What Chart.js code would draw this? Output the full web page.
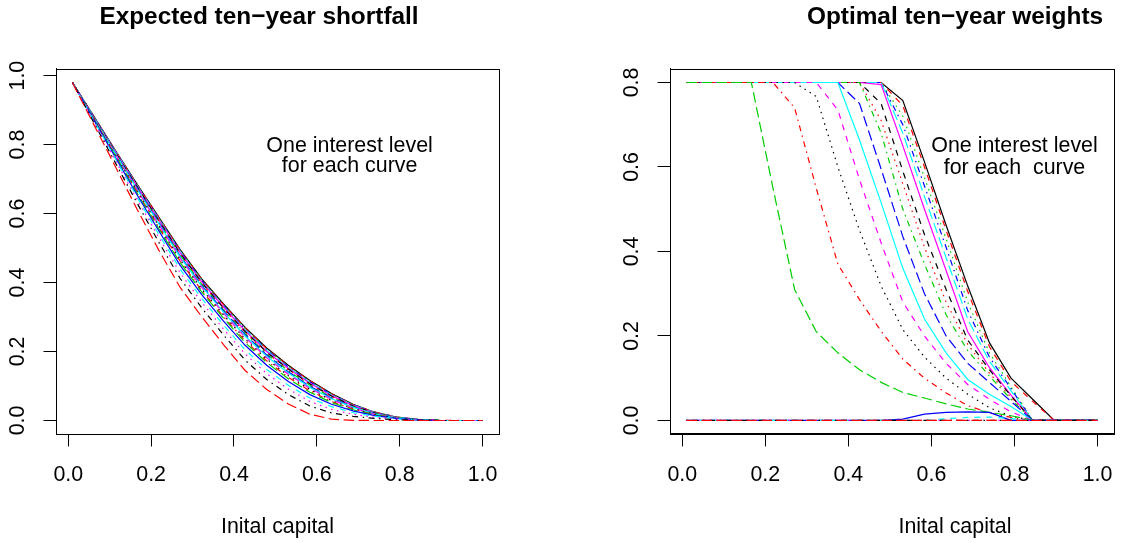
<!DOCTYPE html>
<html><head><meta charset="utf-8">
<script src="https://cdn.jsdelivr.net/npm/chart.js@4.4.1/dist/chart.umd.min.js"></script>
<style>
html,body{margin:0;padding:0;background:#fff;overflow:hidden;width:1123px;height:543px;}
#wl{position:absolute;left:0;top:0;width:518px;height:543px;}
#wr{position:absolute;left:561px;top:0;width:788px;height:543px;}
</style></head><body>
<div id="wl"><canvas id="cl" width="518" height="543"></canvas></div>
<div id="wr"><canvas id="cr" width="788" height="543"></canvas></div>
<script>
// ---- data ----
const xGrid = [0.01, 0.0621, 0.1142, 0.1663, 0.2184, 0.2705, 0.3226, 0.3747, 0.4268, 0.4789, 0.5311, 0.5832, 0.6353, 0.6874, 0.7395, 0.7916, 0.8437, 0.8958, 0.9479, 1.0];
const xTicks = [0, 0.2, 0.4, 0.6, 0.8, 1.0];
const yTicksLeft = [0, 0.2, 0.4, 0.6, 0.8, 1.0];
const yTicksRight = [0, 0.2, 0.4, 0.6, 0.8];

// Expected ten-year shortfall, one curve per interest level
const s1  = [0.98, 0.881, 0.782, 0.685, 0.590, 0.495, 0.410, 0.338, 0.270, 0.210, 0.160, 0.116, 0.078, 0.047, 0.024, 0.010, 0.003, 0.0005, 0, 0];
const s2  = [0.98, 0.881, 0.781, 0.684, 0.589, 0.493, 0.408, 0.336, 0.268, 0.208, 0.158, 0.115, 0.077, 0.046, 0.024, 0.010, 0.003, 0.0005, 0, 0];
const s3  = [0.98, 0.880, 0.781, 0.683, 0.587, 0.492, 0.407, 0.334, 0.266, 0.206, 0.157, 0.113, 0.076, 0.046, 0.023, 0.010, 0.003, 0, 0, 0];
const s4  = [0.98, 0.880, 0.780, 0.682, 0.586, 0.490, 0.405, 0.333, 0.264, 0.205, 0.155, 0.112, 0.075, 0.045, 0.023, 0.010, 0.003, 0, 0, 0];
const s5  = [0.98, 0.880, 0.779, 0.681, 0.584, 0.488, 0.403, 0.331, 0.263, 0.203, 0.153, 0.110, 0.074, 0.044, 0.023, 0.009, 0.003, 0, 0, 0];
const s6  = [0.98, 0.879, 0.778, 0.679, 0.582, 0.486, 0.401, 0.329, 0.260, 0.200, 0.151, 0.108, 0.072, 0.043, 0.022, 0.009, 0.003, 0, 0, 0];
const s7  = [0.98, 0.879, 0.777, 0.678, 0.580, 0.484, 0.399, 0.326, 0.258, 0.198, 0.149, 0.106, 0.071, 0.042, 0.022, 0.009, 0.003, 0, 0, 0];
const s8  = [0.98, 0.878, 0.776, 0.676, 0.579, 0.482, 0.397, 0.324, 0.255, 0.196, 0.147, 0.104, 0.069, 0.041, 0.021, 0.009, 0.003, 0, 0, 0];
const s9  = [0.98, 0.878, 0.775, 0.674, 0.576, 0.479, 0.394, 0.321, 0.252, 0.193, 0.144, 0.102, 0.067, 0.040, 0.021, 0.009, 0.003, 0, 0, 0];
const s10 = [0.98, 0.877, 0.774, 0.673, 0.574, 0.476, 0.391, 0.318, 0.249, 0.190, 0.141, 0.099, 0.065, 0.039, 0.020, 0.008, 0.002, 0, 0, 0];
const s11 = [0.98, 0.876, 0.773, 0.670, 0.571, 0.473, 0.388, 0.314, 0.245, 0.186, 0.138, 0.096, 0.063, 0.038, 0.019, 0.008, 0.002, 0, 0, 0];
const s12 = [0.98, 0.876, 0.771, 0.668, 0.568, 0.470, 0.385, 0.311, 0.241, 0.182, 0.134, 0.093, 0.061, 0.036, 0.018, 0.008, 0.002, 0, 0, 0];
const s13 = [0.98, 0.875, 0.769, 0.665, 0.564, 0.465, 0.380, 0.306, 0.236, 0.178, 0.130, 0.090, 0.058, 0.034, 0.018, 0.007, 0.002, 0, 0, 0];
const s14 = [0.98, 0.874, 0.767, 0.662, 0.560, 0.461, 0.376, 0.301, 0.231, 0.173, 0.125, 0.086, 0.055, 0.033, 0.017, 0.007, 0.002, 0, 0, 0];
const s15 = [0.98, 0.873, 0.766, 0.659, 0.556, 0.457, 0.372, 0.297, 0.226, 0.168, 0.121, 0.082, 0.052, 0.031, 0.016, 0.007, 0.002, 0, 0, 0];
const s16 = [0.98, 0.871, 0.762, 0.654, 0.550, 0.449, 0.364, 0.288, 0.218, 0.160, 0.113, 0.075, 0.047, 0.028, 0.014, 0.006, 0.002, 0, 0, 0];
const s17 = [0.98, 0.869, 0.758, 0.647, 0.540, 0.438, 0.353, 0.277, 0.205, 0.148, 0.102, 0.065, 0.040, 0.023, 0.012, 0.005, 0.001, 0, 0, 0];
const s18 = [0.98, 0.866, 0.753, 0.640, 0.531, 0.427, 0.342, 0.265, 0.193, 0.136, 0.091, 0.055, 0.032, 0.018, 0.009, 0.004, 0.001, 0, 0, 0];
const s19 = [0.98, 0.863, 0.746, 0.630, 0.517, 0.411, 0.326, 0.248, 0.175, 0.119, 0.075, 0.042, 0.022, 0.012, 0.006, 0.002, 0.001, 0, 0, 0];
const s20 = [0.98, 0.857, 0.735, 0.612, 0.494, 0.385, 0.300, 0.220, 0.145, 0.090, 0.048, 0.018, 0.004, 0.0005, 0, 0, 0, 0, 0, 0];

// Optimal ten-year weights, one curve per interest level
const w1  = [0.8, 0.8, 0.8, 0.8, 0.8, 0.8, 0.8, 0.8, 0.8, 0.8, 0.757, 0.612, 0.462, 0.318, 0.184, 0.100, 0.050, 0, 0, 0];
const w2  = [0.8, 0.8, 0.8, 0.8, 0.8, 0.8, 0.8, 0.8, 0.8, 0.8, 0.745, 0.600, 0.450, 0.305, 0.175, 0.092, 0.045, 0, 0, 0];
const w3  = [0.8, 0.8, 0.8, 0.8, 0.8, 0.8, 0.8, 0.8, 0.8, 0.8, 0.720, 0.575, 0.430, 0.280, 0.160, 0.080, 0, 0, 0, 0];
const w4  = [0.8, 0.8, 0.8, 0.8, 0.8, 0.8, 0.8, 0.8, 0.8, 0.8, 0.700, 0.555, 0.410, 0.260, 0.150, 0.075, 0, 0, 0, 0];
const w5  = [0.8, 0.8, 0.8, 0.8, 0.8, 0.8, 0.8, 0.8, 0.8, 0.8, 0.680, 0.530, 0.385, 0.240, 0.140, 0.070, 0, 0, 0, 0];
const w6  = [0.8, 0.8, 0.8, 0.8, 0.8, 0.8, 0.8, 0.8, 0.8, 0.795, 0.650, 0.500, 0.355, 0.210, 0.125, 0.060, 0, 0, 0, 0];
const w7  = [0.8, 0.8, 0.8, 0.8, 0.8, 0.8, 0.8, 0.8, 0.8, 0.750, 0.590, 0.440, 0.310, 0.190, 0.120, 0.058, 0, 0, 0, 0];
const w8  = [0.8, 0.8, 0.8, 0.8, 0.8, 0.8, 0.8, 0.8, 0.8, 0.710, 0.560, 0.410, 0.280, 0.180, 0.112, 0.054, 0, 0, 0, 0];
const w9  = [0.8, 0.8, 0.8, 0.8, 0.8, 0.8, 0.8, 0.8, 0.8, 0.680, 0.500, 0.370, 0.250, 0.165, 0.105, 0.050, 0, 0, 0, 0];
const w10 = [0.8, 0.8, 0.8, 0.8, 0.8, 0.8, 0.8, 0.8, 0.750, 0.595, 0.435, 0.300, 0.200, 0.135, 0.090, 0.045, 0, 0, 0, 0];
const w11 = [0.8, 0.8, 0.8, 0.8, 0.8, 0.8, 0.8, 0.8, 0.664, 0.515, 0.360, 0.240, 0.160, 0.097, 0.062, 0.033, 0, 0, 0, 0];
const w12 = [0.8, 0.8, 0.8, 0.8, 0.8, 0.8, 0.8, 0.735, 0.570, 0.420, 0.280, 0.200, 0.135, 0.085, 0.050, 0.020, 0, 0, 0, 0];
const w13 = [0.8, 0.8, 0.8, 0.8, 0.8, 0.8, 0.767, 0.600, 0.450, 0.318, 0.215, 0.150, 0.100, 0.062, 0.030, 0.010, 0, 0, 0, 0];
const w14 = [0.8, 0.8, 0.8, 0.8, 0.8, 0.740, 0.550, 0.370, 0.286, 0.211, 0.145, 0.100, 0.065, 0.035, 0.018, 0.007, 0, 0, 0, 0];
const w15 = [0.8, 0.8, 0.8, 0.8, 0.550, 0.310, 0.210, 0.160, 0.120, 0.090, 0.066, 0.053, 0.039, 0.027, 0.019, 0.011, 0, 0, 0, 0];
const w16 = [0, 0, 0, 0, 0, 0, 0, 0, 0, 0, 0.003, 0.015, 0.019, 0.020, 0.019, 0, 0, 0, 0, 0];
const w17 = [0, 0, 0, 0, 0, 0, 0, 0, 0, 0, 0, 0, 0.004, 0.007, 0.008, 0.004, 0, 0, 0, 0];
const w18 = [0, 0, 0, 0, 0, 0, 0, 0, 0, 0, 0, 0, 0, 0, 0, 0, 0, 0, 0, 0];
const w19 = [0, 0, 0, 0, 0, 0, 0, 0, 0, 0, 0, 0, 0, 0, 0, 0, 0, 0, 0, 0];
const w20 = [0, 0, 0, 0, 0, 0, 0, 0, 0, 0, 0, 0, 0, 0, 0, 0, 0, 0, 0, 0];

const shortfall = [s1, s2, s3, s4, s5, s6, s7, s8, s9, s10, s11, s12, s13, s14, s15, s16, s17, s18, s19, s20];
const weights = [w1, w2, w3, w4, w5, w6, w7, w8, w9, w10, w11, w12, w13, w14, w15, w16, w17, w18, w19, w20];

// ---- styles ----
const FF = '"Liberation Sans", Arial, Helvetica, sans-serif';
const rColors = ['#000000', '#FF0000', '#00CD00', '#0000FF', '#00FFFF', '#FF00FF'];
const rDash = [[], [6, 6], [1.5, 4.5], [1.5, 4.5, 6, 4.5], [10.5, 4.5]];
const TXT = 21.4;
Chart.defaults.font.family = FF;
Chart.defaults.color = '#000';

function makeDatasets(series) {
  return series.map((vals, i) => ({
    data: xGrid.map((x, j) => ({x: x, y: vals[j]})),
    borderColor: rColors[i % 6],
    borderDash: rDash[i % 5],
    borderWidth: 1.2,
    pointRadius: 0,
    fill: false,
    tension: 0,
    order: -i
  }));
}

const boxPlugin = {
  id: 'rbox',
  afterDraw(chart) {
    const {ctx, chartArea: a} = chart;
    ctx.save();
    ctx.strokeStyle = '#000';
    ctx.lineWidth = 1;
    ctx.setLineDash([]);
    ctx.strokeRect(Math.round(a.left) + 0.5, Math.round(a.top) + 0.5,
                   Math.round(a.right - a.left), Math.round(a.bottom - a.top));
    ctx.restore();
  }
};

const notePlugin = {
  id: 'note',
  afterDatasetsDraw(chart, args, opts) {
    const {ctx} = chart;
    const xs = chart.scales.x, ys = chart.scales.y;
    ctx.save();
    ctx.font = TXT + 'px ' + FF;
    ctx.fillStyle = '#000';
    ctx.textAlign = 'center';
    ctx.textBaseline = 'middle';
    (opts.lines || []).forEach(l => {
      ctx.fillText(l.text, xs.getPixelForValue(l.x), ys.getPixelForValue(l.y));
    });
    ctx.restore();
  }
};

function xScale(height, withTitle) {
  return {
    type: 'linear', min: -0.0296, max: 1.0396,
    afterBuildTicks: s => { s.ticks = xTicks.map(v => ({value: v})); },
    afterFit: s => { s.height = height; },
    ticks: {callback: v => v.toFixed(1), font: {size: TXT}, color: '#000', padding: 15.7, maxRotation: 0, autoSkip: false},
    grid: {drawOnChartArea: false, drawTicks: true, tickLength: 12.5, color: '#000', lineWidth: 1},
    border: {display: true, color: '#000', width: 1},
    title: {display: withTitle, text: 'Inital capital', font: {size: TXT}, color: '#000', padding: {top: 0, bottom: 3.2}}
  };
}
function yScale(min, max, ticks, width) {
  return {
    type: 'linear', min: min, max: max,
    afterBuildTicks: s => { s.ticks = ticks.map(v => ({value: v})); },
    afterFit: s => { s.width = width; },
    ticks: {callback: v => v.toFixed(1), font: {size: TXT}, color: '#000', padding: 11, minRotation: 90, maxRotation: 90, crossAlign: 'center', autoSkip: false},
    grid: {drawOnChartArea: false, drawTicks: true, tickLength: 12.5, color: '#000', lineWidth: 1},
    border: {display: true, color: '#000', width: 1}
  };
}
function spacer(width) {
  return {type: 'linear', position: 'right', display: true, afterFit: s => { s.width = width; },
          ticks: {display: false}, grid: {display: false, drawTicks: false}, border: {display: false}, title: {display: false}};
}
const titleFont = {size: 24.4, weight: 'bold'};

new Chart(document.getElementById('cl'), {
  type: 'line',
  data: {datasets: makeDatasets(shortfall)},
  options: {
    responsive: false, animation: false, events: [],
    layout: {padding: 0},
    plugins: {
      legend: {display: false}, tooltip: {enabled: false},
      title: {display: true, text: 'Expected ten\u2212year shortfall', font: titleFont, color: '#000', padding: {top: 2.4, bottom: 37.3}},
      note: {lines: [{text: 'One interest level', x: 0.679, y: 0.797}, {text: 'for each curve', x: 0.679, y: 0.737}]}
    },
    scales: {
      x: xScale(109, true),
      y: yScale(-0.0392, 1.0192, yTicksLeft, 56),
      yr: spacer(19)
    }
  },
  plugins: [boxPlugin, notePlugin]
});

new Chart(document.getElementById('cr'), {
  type: 'line',
  data: {datasets: makeDatasets(weights)},
  options: {
    responsive: false, animation: false, events: [],
    layout: {padding: 0},
    plugins: {
      legend: {display: false}, tooltip: {enabled: false},
      title: {display: true, text: 'Optimal ten\u2212year weights', font: titleFont, color: '#000', padding: {top: 2.4, bottom: 37.3}},
      subtitle: {display: true, position: 'bottom', text: 'Inital capital', font: {size: TXT}, color: '#000', padding: {top: 0, bottom: 3.2}},
      note: {lines: [{text: 'One interest level', x: 0.80, y: 0.6495}, {text: 'for each  curve', x: 0.80, y: 0.598}]}
    },
    scales: {
      x: xScale(80.2, false),
      y: yScale(-0.032, 0.832, yTicksRight, 109),
      yr: spacer(235)
    }
  },
  plugins: [boxPlugin, notePlugin]
});
</script>
</body></html>
